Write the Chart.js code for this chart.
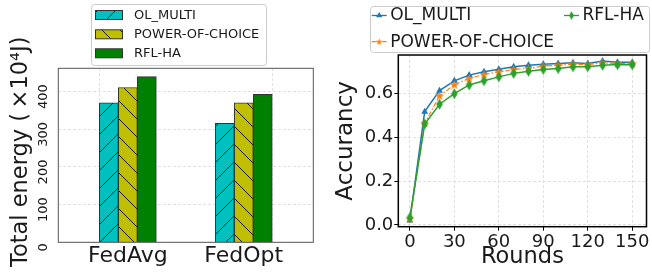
<!DOCTYPE html>
<html><head><meta charset="utf-8">
<script src="https://cdn.jsdelivr.net/npm/chart.js@4.4.1/dist/chart.umd.min.js"></script>
<style>
html,body{margin:0;padding:0;background:#fff;}
#wrap{position:relative;width:652px;height:280px;overflow:hidden;background:#fff;}
#c1{position:absolute;left:0;top:0;}
#c2{position:absolute;left:330px;top:0;}
</style></head><body>
<div id="wrap"><canvas id="c1" width="330" height="280"></canvas><canvas id="c2" width="322" height="280"></canvas></div>
<script>
// ---------- data ----------
const categories = ['FedAvg', 'FedOpt'];
const seriesNames = ['OL_MULTI', 'POWER-OF-CHOICE', 'RFL-HA'];
const energyOL  = [370, 316];
const energyPOC = [411, 370];
const energyRFL = [440, 393];
const energyTicks = [0, 100, 200, 300, 400];

const rounds = [0, 10, 20, 30, 40, 50, 60, 70, 80, 90, 100, 110, 120, 130, 140, 150];
const accOL  = [0.020, 0.518, 0.614, 0.659, 0.685, 0.700, 0.712, 0.723, 0.730, 0.735, 0.738, 0.741, 0.738, 0.749, 0.744, 0.744];
const accPOC = [0.028, 0.465, 0.590, 0.641, 0.670, 0.688, 0.700, 0.711, 0.715, 0.726, 0.730, 0.735, 0.733, 0.741, 0.738, 0.738];
const accRFL = [0.034, 0.461, 0.552, 0.600, 0.640, 0.659, 0.677, 0.693, 0.703, 0.711, 0.715, 0.723, 0.723, 0.730, 0.733, 0.732];
const roundTicks = [0, 30, 60, 90, 120, 150];
const accTicks = [0, 0.2, 0.4, 0.6];

// ---------- style ----------
const FONT = "'DejaVu Sans', 'Liberation Sans', sans-serif";
const TXT = '#1a1a1a';
const GRIDC = '#d9d9d9';
const cCyan = '#00bfbf', cOlive = '#bfbf00', cGreen = '#008000';
const cBlue = '#1f77b4', cOrange = '#ff7f0e', cGreen2 = '#2ca02c';

const ctx1 = document.getElementById('c1').getContext('2d');
const ctx2 = document.getElementById('c2').getContext('2d');

function hatch(ctx, bg, dir) {
  const s = 18;
  const c = document.createElement('canvas'); c.width = s; c.height = s;
  const g = c.getContext('2d');
  g.fillStyle = bg; g.fillRect(0, 0, s, s);
  g.strokeStyle = '#1a1a1a'; g.lineWidth = 1;
  g.beginPath();
  if (dir === '/') {
    g.moveTo(-2, s + 2); g.lineTo(s + 2, -2);
    g.moveTo(-2, 2); g.lineTo(2, -2);
    g.moveTo(s - 2, s + 2); g.lineTo(s + 2, s - 2);
  } else {
    g.moveTo(-2, -2); g.lineTo(s + 2, s + 2);
    g.moveTo(s - 2, -2); g.lineTo(s + 2, 2);
    g.moveTo(-2, s - 2); g.lineTo(2, s + 2);
  }
  g.stroke();
  return ctx.createPattern(c, 'repeat');
}
const patOL = hatch(ctx1, cCyan, '/');
const patPOC = hatch(ctx1, cOlive, '\\');

function starImg(color) {
  const c = document.createElement('canvas'); c.width = 11; c.height = 11;
  const g = c.getContext('2d');
  const cx = 5.5, cy = 5.8, R = 4.8, r = 2.0;
  g.beginPath();
  for (let i = 0; i < 10; i++) {
    const a = -Math.PI / 2 + i * Math.PI / 5;
    const rr = i % 2 ? r : R;
    g.lineTo(cx + rr * Math.cos(a), cy + rr * Math.sin(a));
  }
  g.closePath(); g.fillStyle = color; g.fill();
  return c;
}
function diamondImg(color) {
  const c = document.createElement('canvas'); c.width = 9; c.height = 12;
  const g = c.getContext('2d');
  g.beginPath(); g.moveTo(4.5, 0.5); g.lineTo(7.8, 6); g.lineTo(4.5, 11.5); g.lineTo(1.2, 6); g.closePath();
  g.fillStyle = color; g.fill();
  return c;
}
const imgStar = starImg(cOrange);
const imgDiamond = diamondImg(cGreen2);

function roundRect(g, x, y, w, h, r) {
  g.beginPath();
  g.moveTo(x + r, y); g.lineTo(x + w - r, y); g.arcTo(x + w, y, x + w, y + r, r);
  g.lineTo(x + w, y + h - r); g.arcTo(x + w, y + h, x + w - r, y + h, r);
  g.lineTo(x + r, y + h); g.arcTo(x, y + h, x, y + h - r, r);
  g.lineTo(x, y + r); g.arcTo(x, y, x + r, y, r); g.closePath();
}

const framePlugin = (color, width) => ({
  id: 'frame',
  afterDraw(chart) {
    const a = chart.chartArea, g = chart.ctx;
    g.save(); g.strokeStyle = color; g.lineWidth = width;
    g.strokeRect(a.left, a.top, a.right - a.left, a.bottom - a.top);
    g.restore();
  }
});

// ---------- left: bar chart ----------
const gridX = [-0.245, 1.245];
const legend1 = {
  id: 'legend1',
  afterDraw(chart) {
    const g = chart.ctx;
    g.save();
    roundRect(g, 91.5, 4.5, 175, 61, 3);
    g.fillStyle = 'rgba(255,255,255,0.9)'; g.fill();
    g.strokeStyle = '#cccccc'; g.lineWidth = 1; g.stroke();
    const rows = [15, 34.3, 53.3];
    const fills = [patOL, patPOC, cGreen];
    for (let i = 0; i < 3; i++) {
      g.fillStyle = fills[i];
      g.fillRect(95.5, rows[i] - 4.5, 27, 9);
      g.strokeStyle = '#333'; g.lineWidth = 1;
      g.strokeRect(95.5, rows[i] - 4.5, 27, 9);
      g.fillStyle = TXT; g.font = '13px ' + FONT; g.textBaseline = 'middle'; g.textAlign = 'left';
      g.fillText(seriesNames[i], 134, rows[i] + 0.5);
    }
    g.restore();
  }
};

new Chart(ctx1, {
  type: 'bar',
  data: {
    datasets: [
      { label: seriesNames[0], data: categories.map((c, i) => ({ x: i, y: energyOL[i] })), backgroundColor: patOL, borderColor: '#333', borderWidth: 1, barThickness: 19 },
      { label: seriesNames[1], data: categories.map((c, i) => ({ x: i, y: energyPOC[i] })), backgroundColor: patPOC, borderColor: '#333', borderWidth: 1, barThickness: 19 },
      { label: seriesNames[2], data: categories.map((c, i) => ({ x: i, y: energyRFL[i] })), backgroundColor: cGreen, borderColor: '#333', borderWidth: 1, barThickness: 19 }
    ]
  },
  options: {
    responsive: false, animation: false, devicePixelRatio: 1,
    layout: { padding: { left: 0, right: 16.7, top: 68.3, bottom: 0 } },
    plugins: { legend: { display: false }, tooltip: { enabled: false } },
    scales: {
      x: {
        type: 'linear', min: -0.6, max: 1.6, offset: false,
        afterBuildTicks: s => { s.ticks = categories.map((c, i) => ({ value: i })); },
        ticks: { callback: v => categories[v], font: { family: FONT, size: 22 }, color: TXT, padding: 1, maxRotation: 0, autoSkip: false },
        grid: { display: false, drawTicks: false, offset: false },
        border: { display: false },
        afterFit: s => { s.height = 37.7; }
      },
      xg: {
        type: 'linear', position: 'top', min: -0.6, max: 1.6, offset: false,
        afterBuildTicks: s => { s.ticks = gridX.map(v => ({ value: v })); },
        ticks: { display: false },
        grid: { color: GRIDC, lineWidth: 0.8, drawTicks: false, offset: false },
        border: { display: false, dash: [3, 2] },
        afterFit: s => { s.height = 0; }
      },
      y: {
        min: 0, max: 462,
        afterBuildTicks: s => { s.ticks = energyTicks.map(v => ({ value: v })); },
        ticks: { minRotation: 90, maxRotation: 90, crossAlign: 'center', labelOffset: 5, padding: 2, font: { family: FONT, size: 13 }, color: TXT },
        grid: { color: GRIDC, lineWidth: 0.8, drawTicks: false },
        border: { display: false, dash: [3, 2] },
        title: { display: true, text: ' Total energy (\u2009×10⁴J)', font: { family: FONT, size: 22.5 }, color: TXT, padding: { top: 8, bottom: 0 } },
        afterFit: s => { s.width = 58.3; }
      }
    }
  },
  plugins: [framePlugin('#555', 1), legend1]
});

// ---------- right: line chart ----------
const legend2 = {
  id: 'legend2',
  afterDraw(chart) {
    const g = chart.ctx;
    g.save();
    roundRect(g, 40.5, 6.5, 279, 46, 3);
    g.fillStyle = 'rgba(255,255,255,0.9)'; g.fill();
    g.strokeStyle = '#cccccc'; g.lineWidth = 1; g.stroke();
    const items = [
      { x: 41.7, y: 15.5, text: seriesNames[0], color: cBlue, dash: [], mk: 'tri' },
      { x: 41.7, y: 41.7, text: seriesNames[1], color: cOrange, dash: [5, 2, 1.5, 2], mk: imgStar },
      { x: 234, y: 15.5, text: seriesNames[2], color: cGreen2, dash: [], mk: imgDiamond }
    ];
    for (const it of items) {
      g.strokeStyle = it.color; g.lineWidth = 1.3; g.setLineDash(it.dash);
      g.beginPath(); g.moveTo(it.x, it.y); g.lineTo(it.x + 15, it.y); g.stroke();
      g.setLineDash([]);
      const mx = it.x + 7.5;
      if (it.mk === 'tri') {
        const r = 3.6;
        g.beginPath();
        g.moveTo(mx, it.y - r);
        g.lineTo(mx + r * 0.866, it.y + r * 0.5);
        g.lineTo(mx - r * 0.866, it.y + r * 0.5);
        g.closePath(); g.fillStyle = it.color; g.fill();
      } else {
        g.save(); g.translate(mx, it.y); g.scale(0.75, 0.75);
        g.drawImage(it.mk, -it.mk.width / 2, -it.mk.height / 2);
        g.restore();
      }
      g.fillStyle = TXT; g.font = '17px ' + FONT; g.textBaseline = 'middle'; g.textAlign = 'left';
      g.fillText(it.text, it.x + 18.5, it.y + 0.5);
    }
    g.restore();
  }
};

const toXY = arr => rounds.map((r, i) => ({ x: r, y: arr[i] }));

new Chart(ctx2, {
  type: 'line',
  data: {
    datasets: [
      { label: seriesNames[0], data: toXY(accOL), borderColor: cBlue, backgroundColor: cBlue, borderWidth: 1.5, pointStyle: 'triangle', pointRadius: 4, pointBorderWidth: 0, order: 2 },
      { label: seriesNames[1], data: toXY(accPOC), borderColor: cOrange, backgroundColor: cOrange, borderWidth: 1.2, borderDash: [5, 2, 1.5, 2], pointStyle: imgStar, order: 1 },
      { label: seriesNames[2], data: toXY(accRFL), borderColor: cGreen2, backgroundColor: cGreen2, borderWidth: 1.5, pointStyle: imgDiamond, order: 0 }
    ]
  },
  options: {
    responsive: false, animation: false, devicePixelRatio: 1,
    layout: { padding: { left: 0, right: 3.7, top: 55, bottom: 0 } },
    plugins: { legend: { display: false }, tooltip: { enabled: false } },
    elements: { line: { tension: 0 } },
    scales: {
      x: {
        type: 'linear', min: -7.8, max: 159.6,
        afterBuildTicks: s => { s.ticks = roundTicks.map(v => ({ value: v })); },
        ticks: { font: { family: FONT, size: 18 }, color: TXT, padding: 0.6, maxRotation: 0, autoSkip: false },
        grid: { color: GRIDC, lineWidth: 0.8, tickLength: 4, tickColor: '#000', tickWidth: 1 },
        border: { display: false, dash: [3, 2] },
        title: { display: true, text: 'Rounds', font: { family: FONT, size: 22.5 }, color: TXT, padding: { top: 0, bottom: 9.3 } },
        afterFit: s => { s.height = 53.3; }
      },
      y: {
        min: -0.008, max: 0.777,
        afterBuildTicks: s => { s.ticks = accTicks.map(v => ({ value: v })); },
        ticks: { callback: v => v.toFixed(1), font: { family: FONT, size: 18 }, color: TXT, padding: 1 },
        grid: { color: GRIDC, lineWidth: 0.8, tickLength: 4, tickColor: '#000', tickWidth: 1 },
        border: { display: false, dash: [3, 2] },
        title: { display: true, text: 'Accurancy', font: { family: FONT, size: 23 }, color: TXT, padding: { top: 2, bottom: 0 } },
        afterFit: s => { s.width = 68.3; }
      }
    }
  },
  plugins: [framePlugin('#000', 1.5), legend2]
});
</script>
</body></html>
